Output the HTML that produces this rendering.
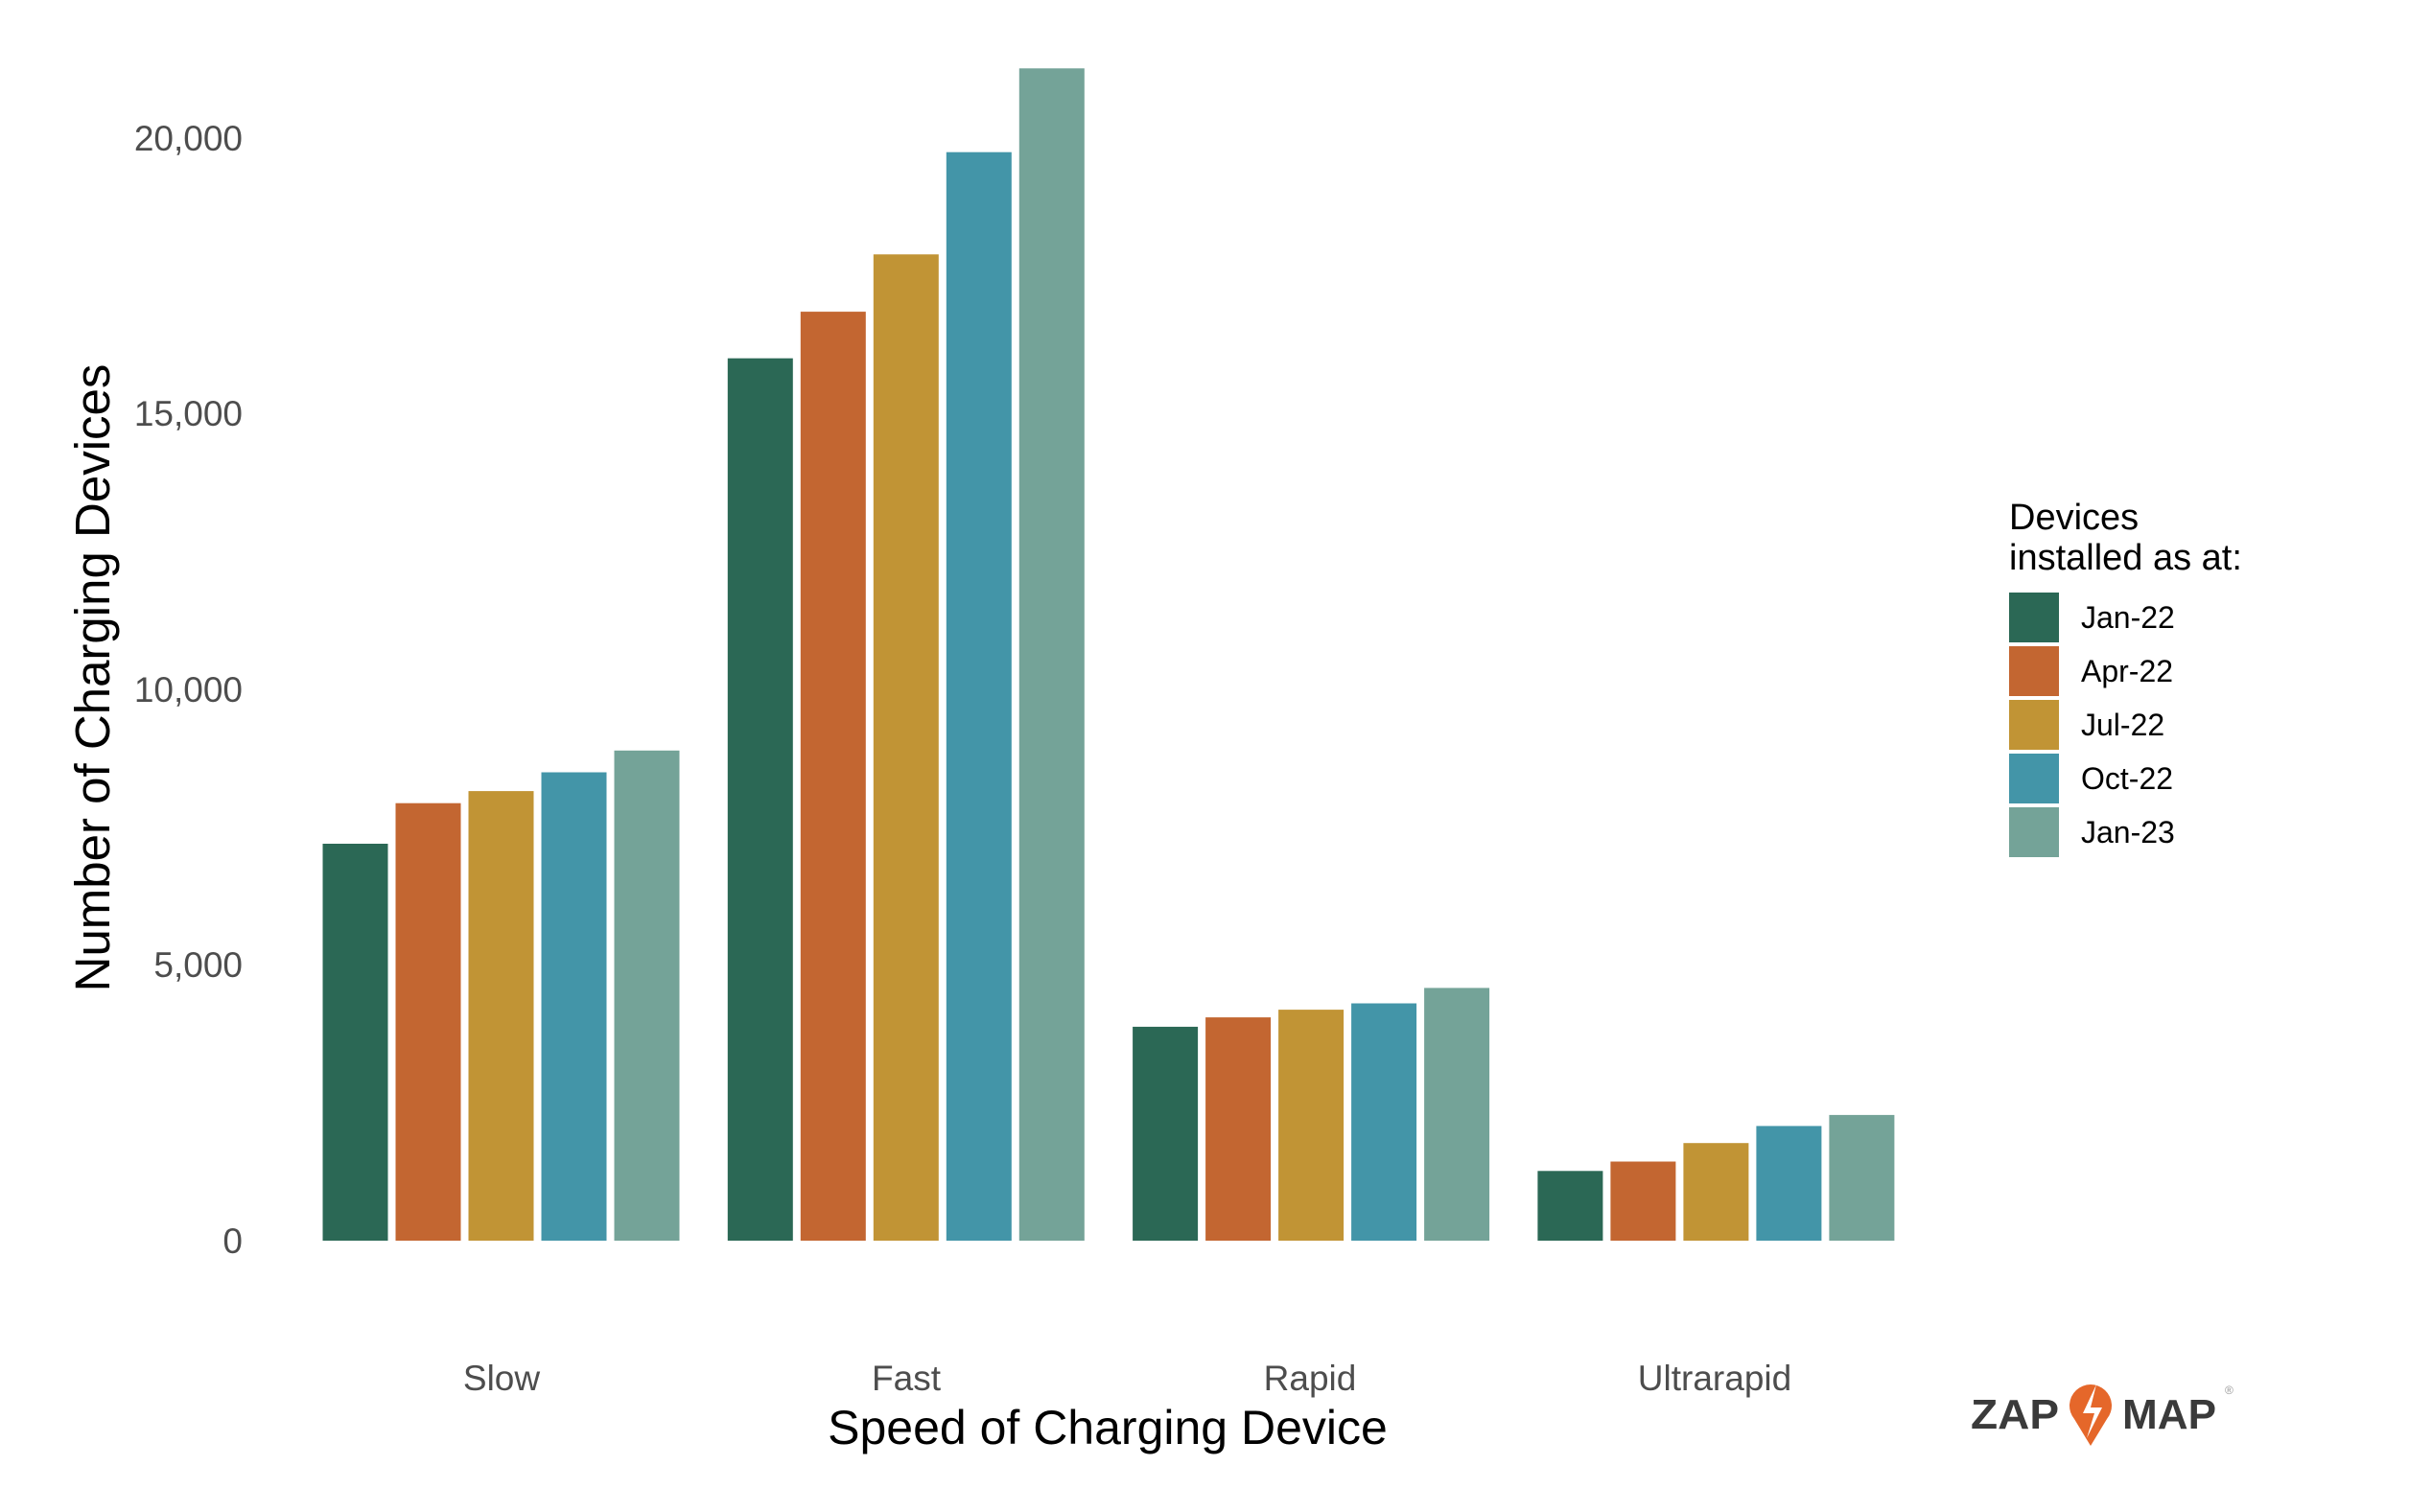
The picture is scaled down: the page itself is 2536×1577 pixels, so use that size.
<!DOCTYPE html>
<html><head><meta charset="utf-8"><style>
html,body{margin:0;padding:0;background:#fff;}
svg{display:block;font-family:"Liberation Sans",sans-serif;}
</style></head><body>
<svg width="2536" height="1577" viewBox="0 0 2536 1577">
<g font-size="37" fill="#4d4d4d" text-anchor="end">
<text x="253" y="157">20,000</text>
<text x="253" y="444">15,000</text>
<text x="253" y="732">10,000</text>
<text x="253" y="1019">5,000</text>
<text x="253" y="1307">0</text>
</g>
<text transform="translate(114,707) rotate(-90)" font-size="51" text-anchor="middle" fill="#000">Number of Charging Devices</text>
<g fill="#2b6855">
<rect x="336.5" y="880" width="68" height="414"/>
<rect x="758.8" y="373.7" width="68" height="920.3"/>
<rect x="1181.1" y="1070.9" width="68" height="223.1"/>
<rect x="1603.4" y="1221.3" width="68" height="72.7"/>
</g>
<g fill="#c36631">
<rect x="412.5" y="837.7" width="68" height="456.3"/>
<rect x="834.8" y="325.1" width="68" height="968.9"/>
<rect x="1257.1" y="1061.1" width="68" height="232.9"/>
<rect x="1679.4" y="1211.5" width="68" height="82.5"/>
</g>
<g fill="#c19435">
<rect x="488.5" y="825.1" width="68" height="468.9"/>
<rect x="910.8" y="265.3" width="68" height="1028.7"/>
<rect x="1333.1" y="1053.1" width="68" height="240.9"/>
<rect x="1755.4" y="1192.2" width="68" height="101.8"/>
</g>
<g fill="#4395a8">
<rect x="564.5" y="805.5" width="68" height="488.5"/>
<rect x="986.8" y="158.7" width="68" height="1135.3"/>
<rect x="1409.1" y="1046.5" width="68" height="247.5"/>
<rect x="1831.4" y="1174.4" width="68" height="119.6"/>
</g>
<g fill="#74a398">
<rect x="640.5" y="782.8" width="68" height="511.2"/>
<rect x="1062.8" y="71.3" width="68" height="1222.7"/>
<rect x="1485.1" y="1030.4" width="68" height="263.6"/>
<rect x="1907.4" y="1162.9" width="68" height="131.1"/>
</g>
<g font-size="37" fill="#4d4d4d" text-anchor="middle">
<text x="523" y="1450">Slow</text>
<text x="945" y="1450">Fast</text>
<text x="1366" y="1450">Rapid</text>
<text x="1788" y="1450">Ultrarapid</text>
</g>
<text x="1155" y="1506" font-size="50" text-anchor="middle" fill="#000">Speed of Charging Device</text>
<g font-size="38" fill="#000">
<text x="2095" y="552">Devices</text>
<text x="2095" y="594">installed as at:</text>
</g>
<g font-size="32" fill="#000">
<rect x="2095" y="618" width="52" height="52" fill="#2b6855"/>
<rect x="2095" y="674" width="52" height="52" fill="#c36631"/>
<rect x="2095" y="730" width="52" height="52" fill="#c19435"/>
<rect x="2095" y="786" width="52" height="52" fill="#4395a8"/>
<rect x="2095" y="842" width="52" height="52" fill="#74a398"/>
<text x="2170" y="655">Jan-22</text>
<text x="2170" y="711">Apr-22</text>
<text x="2170" y="767">Jul-22</text>
<text x="2170" y="823">Oct-22</text>
<text x="2170" y="879">Jan-23</text>
</g>
<g font-weight="bold" font-size="44" fill="#3a3a3a">
<text x="2055" y="1490" textLength="92" lengthAdjust="spacingAndGlyphs">ZAP</text>
<text x="2213" y="1490" textLength="98" lengthAdjust="spacingAndGlyphs">MAP</text>
</g>
<path d="M2180,1508 L2163,1480 A22,22 0 1 1 2197,1480 Z" fill="#e5672a"/>
<path d="M2186,1444 L2172,1474 L2184,1474 L2176,1500 L2192,1468 L2180,1468 Z" fill="#fff"/>
<text x="2320" y="1454" font-size="12" fill="#999">®</text>
</svg>
</body></html>
